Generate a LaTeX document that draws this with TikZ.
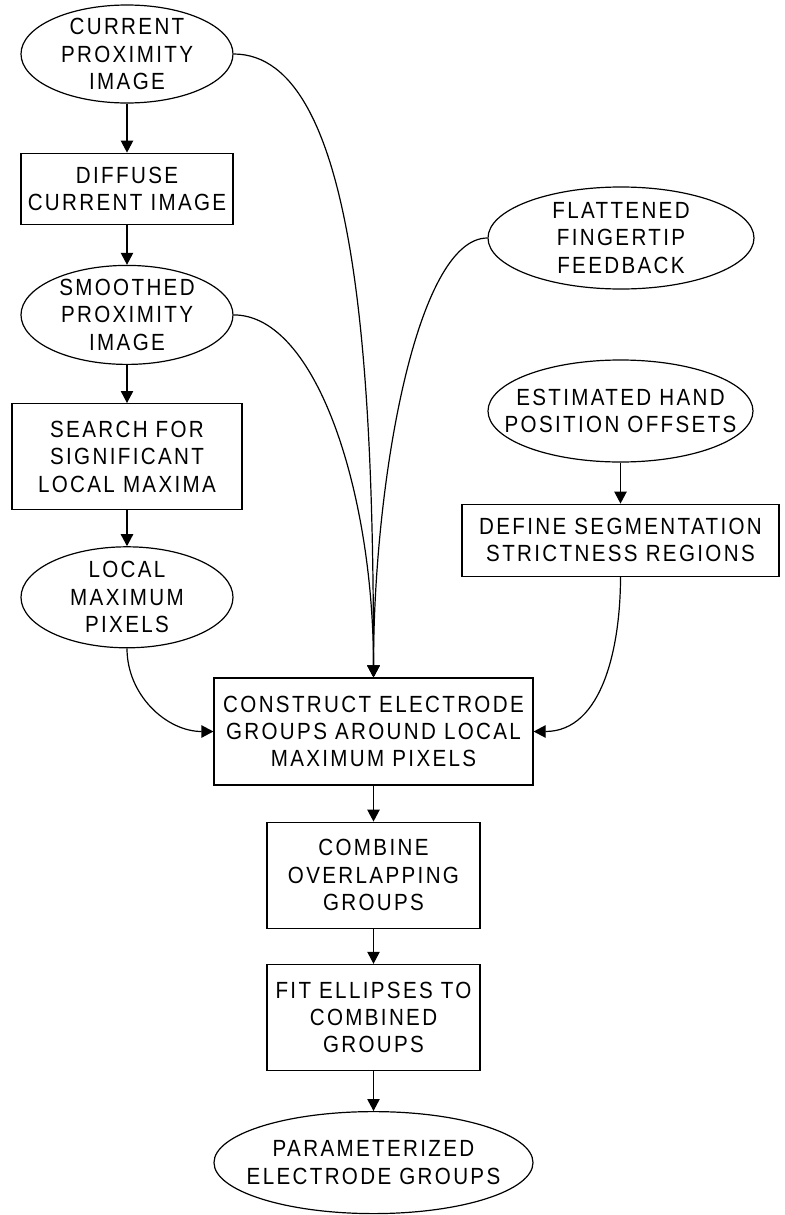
\documentclass[tikz,border=0pt]{standalone}
\usepackage{fontspec}
\setmainfont[FakeStretch=0.88, LetterSpace=10]{Liberation Sans}
\usetikzlibrary{arrows.meta,positioning,shapes.geometric}

\begin{document}
\begin{tikzpicture}[
    x=0.5pt, y=-0.5pt,
    >={Triangle[length=6pt, width=6.2pt]},
    font=\fontsize{11.7}{13.7}\selectfont,
    box/.style={draw, rectangle, align=center, inner sep=2pt, line width=0.6pt},
    oval/.style={draw, ellipse, align=center, inner xsep=-14pt, inner ysep=-4pt,
                 line width=0.6pt},
    flow/.style={->, line width=0.6pt},
    feed/.style={->, line width=0.6pt},
  ]
  \useasboundingbox (0,0) rectangle (785,1215);

  % left column
  \node[oval, minimum width=106pt, minimum height=49pt] (cur) at (127,54)
       {CURRENT\\PROXIMITY\\IMAGE};
  \node[box, minimum width=106pt, minimum height=35.5pt, below=24.5pt of cur] (diff)
       {DIFFUSE\\CURRENT IMAGE};
  \node[oval, minimum width=106pt, minimum height=49.5pt, below=20pt of diff] (smooth)
       {SMOOTHED\\PROXIMITY\\IMAGE};
  \node[box, minimum width=115pt, minimum height=53pt, below=19pt of smooth] (search)
       {SEARCH FOR\\SIGNIFICANT\\LOCAL MAXIMA};
  \node[oval, minimum width=106pt, minimum height=50.5pt, below=18pt of search] (locmax)
       {LOCAL\\MAXIMUM\\PIXELS};

  % right column
  \node[oval, minimum width=133pt, minimum height=51pt] (flat) at (621,238)
       {FLATTENED\\FINGERTIP\\FEEDBACK};
  \node[oval, minimum width=132.5pt, minimum height=51pt] (hand) at (620.5,411)
       {ESTIMATED HAND\\POSITION OFFSETS};
  \node[box, minimum width=158.5pt, minimum height=36pt, below=20.5pt of hand] (segm)
       {DEFINE SEGMENTATION\\STRICTNESS REGIONS};

  % middle column
  \node[box, minimum width=159.5pt, minimum height=53.5pt] (groups) at (373.5,731.5)
       {CONSTRUCT ELECTRODE\\GROUPS AROUND LOCAL\\MAXIMUM PIXELS};
  \node[box, minimum width=106.5pt, minimum height=53pt, below=18pt of groups] (merge)
       {COMBINE\\OVERLAPPING\\GROUPS};
  \node[box, minimum width=106.5pt, minimum height=53pt, below=17.5pt of merge] (fit)
       {FIT ELLIPSES TO\\COMBINED\\GROUPS};
  \node[oval, minimum width=159.5pt, minimum height=51pt, below=20pt of fit] (param)
       {PARAMETERIZED\\ELECTRODE GROUPS};

  \draw[flow] (cur) -- (diff);
  \draw[flow] (diff) -- (smooth);
  \draw[flow] (smooth) -- (search);
  \draw[flow] (search) -- (locmax);
  \draw[flow] (hand) -- (segm);
  \draw[flow] (groups) -- (merge);
  \draw[flow] (merge) -- (fit);
  \draw[flow] (fit) -- (param);

  \draw[feed] (cur.east) to[out=0, in=90, out looseness=0.5, in looseness=1.2] (groups.north);
  \draw[feed] (smooth.east) to[out=0, in=90, out looseness=0.55, in looseness=1.2] (groups.north);
  \draw[feed] (flat.west) to[out=180, in=90, out looseness=0.4, in looseness=1.1] (groups.north);
  \draw[feed] (locmax.south) to[out=-90, in=180] (groups.west);
  \draw[feed] (segm.south) to[out=-90, in=0] (groups.east);

\end{tikzpicture}
\end{document}
